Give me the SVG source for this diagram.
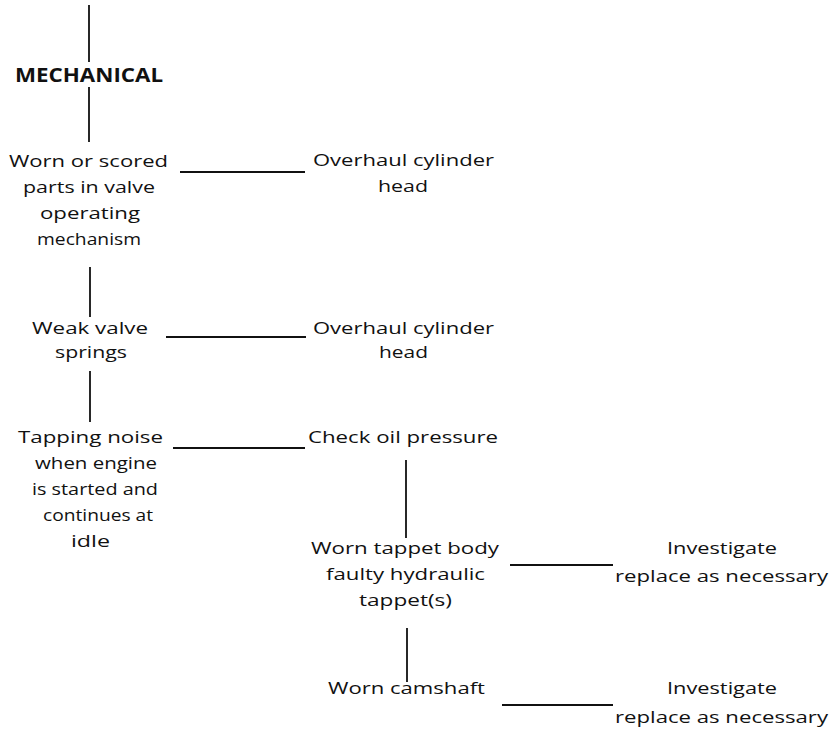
<svg xmlns="http://www.w3.org/2000/svg" width="832" height="731" viewBox="0 0 832 731">
<style>
  .t { font-family: "Open Sans", "Liberation Sans", sans-serif; font-size: 17px; fill: #111; }
  .b { font-family: "Open Sans", "Liberation Sans", sans-serif; font-size: 19px; font-weight: bold; fill: #111; }
  .c { stroke: #111; stroke-width: 1.8; fill: none; }
</style>
<rect x="0" y="0" width="832" height="731" fill="#fff"/>
<g id="connectors">
  <line class="c" x1="89" y1="5" x2="89" y2="62"/>
  <line class="c" x1="89" y1="87" x2="89" y2="142"/>
  <line class="c" x1="180" y1="172" x2="305" y2="172"/>
  <line class="c" x1="90" y1="267" x2="90" y2="317"/>
  <line class="c" x1="166" y1="337" x2="306" y2="337"/>
  <line class="c" x1="90" y1="371" x2="90" y2="422"/>
  <line class="c" x1="173" y1="448" x2="305" y2="448"/>
  <line class="c" x1="406" y1="460" x2="406" y2="538"/>
  <line class="c" x1="510" y1="565" x2="613" y2="565"/>
  <line class="c" x1="407" y1="628" x2="407" y2="682"/>
  <line class="c" x1="502" y1="705" x2="613" y2="705"/>
</g>
<g id="mechanical">
  <text class="b" x="15" y="82" textLength="148" lengthAdjust="spacingAndGlyphs">MECHANICAL</text>
</g>
<g id="worn-scored-parts">
  <text class="t" x="9" y="167" textLength="159" lengthAdjust="spacingAndGlyphs">Worn or scored</text>
  <text class="t" x="23" y="193" textLength="132" lengthAdjust="spacingAndGlyphs">parts in valve</text>
  <text class="t" x="40" y="219" textLength="100" lengthAdjust="spacingAndGlyphs">operating</text>
  <text class="t" x="37" y="245" textLength="104" lengthAdjust="spacingAndGlyphs">mechanism</text>
</g>
<g id="overhaul-1">
  <text class="t" x="313" y="166" textLength="181" lengthAdjust="spacingAndGlyphs">Overhaul cylinder</text>
  <text class="t" x="378" y="192" textLength="50" lengthAdjust="spacingAndGlyphs">head</text>
</g>
<g id="weak-springs">
  <text class="t" x="32" y="334" textLength="116" lengthAdjust="spacingAndGlyphs">Weak valve</text>
  <text class="t" x="55" y="358" textLength="72" lengthAdjust="spacingAndGlyphs">springs</text>
</g>
<g id="overhaul-2">
  <text class="t" x="313" y="334" textLength="181" lengthAdjust="spacingAndGlyphs">Overhaul cylinder</text>
  <text class="t" x="379" y="358" textLength="49" lengthAdjust="spacingAndGlyphs">head</text>
</g>
<g id="tapping-noise">
  <text class="t" x="18" y="443" textLength="145" lengthAdjust="spacingAndGlyphs">Tapping noise</text>
  <text class="t" x="35" y="469" textLength="122" lengthAdjust="spacingAndGlyphs">when engine</text>
  <text class="t" x="32" y="495" textLength="126" lengthAdjust="spacingAndGlyphs">is started and</text>
  <text class="t" x="43" y="521" textLength="110" lengthAdjust="spacingAndGlyphs">continues at</text>
  <text class="t" x="71" y="547" textLength="39" lengthAdjust="spacingAndGlyphs">idle</text>
</g>
<g id="check-oil">
  <text class="t" x="308" y="443" textLength="190" lengthAdjust="spacingAndGlyphs">Check oil pressure</text>
</g>
<g id="worn-tappet">
  <text class="t" x="311" y="554" textLength="188" lengthAdjust="spacingAndGlyphs">Worn tappet body</text>
  <text class="t" x="326" y="580" textLength="159" lengthAdjust="spacingAndGlyphs">faulty hydraulic</text>
  <text class="t" x="359" y="606" textLength="93" lengthAdjust="spacingAndGlyphs">tappet(s)</text>
</g>
<g id="investigate-1">
  <text class="t" x="667" y="554" textLength="110" lengthAdjust="spacingAndGlyphs">Investigate</text>
  <text class="t" x="615" y="582" textLength="213" lengthAdjust="spacingAndGlyphs">replace as necessary</text>
</g>
<g id="worn-camshaft">
  <text class="t" x="328" y="694" textLength="157" lengthAdjust="spacingAndGlyphs">Worn camshaft</text>
</g>
<g id="investigate-2">
  <text class="t" x="667" y="694" textLength="110" lengthAdjust="spacingAndGlyphs">Investigate</text>
  <text class="t" x="615" y="723" textLength="213" lengthAdjust="spacingAndGlyphs">replace as necessary</text>
</g>
</svg>
